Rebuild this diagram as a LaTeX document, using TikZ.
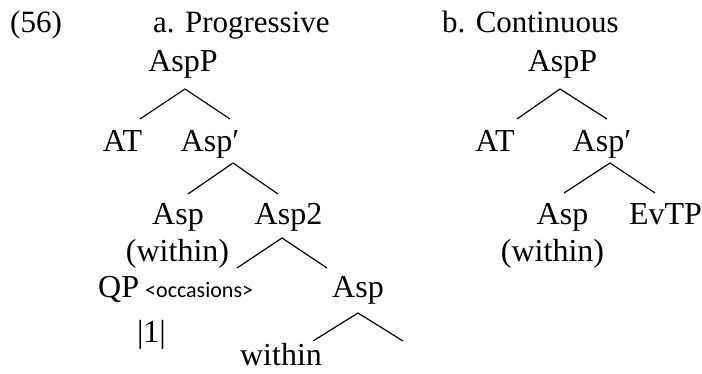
\documentclass[tikz,border=0pt]{standalone}
\usepackage{fontspec}
\setmainfont{Liberation Serif}
\newfontfamily\smallsans{Carlito}
\begin{document}
\begin{tikzpicture}[x=1pt,y=-1pt,
  lab/.style={anchor=base,inner sep=0pt,font=\fontsize{32}{36}\selectfont},
  labw/.style={anchor=base west,inner sep=0pt,font=\fontsize{32}{36}\selectfont},
  head/.style={anchor=base west,inner sep=0pt,font=\fontsize{31}{36}\selectfont},
  tiny/.style={anchor=base west,inner sep=0pt,font=\smallsans\fontsize{22}{26}\selectfont},
  br/.style={line width=1.2pt}]
\useasboundingbox (0,0) rectangle (702,374);
% headings
\node[head] (n56) at (10,33) {(56)};
\node[head] (ta) at (153,33) {a. Progressive};
\node[head] (tb) at (442,33) {b. Continuous};
% tree a
\node[lab] (aP) at (183,72) {AspP};
\node[lab] (aAT) at (122.5,152) {AT};
\node[lab] (aBar) at (210,152) {Asp′};
\node[lab] (aAsp) at (178,225) {Asp};
\node[lab] (aWi) at (177.5,262) {(within)};
\node[lab] (aAsp2) at (288.5,225) {Asp2};
\node[labw] (aQP) at (98,298) {QP};
\node[tiny] (aOcc) at (145,298) {<occasions>};
\node[lab] (aOne) at (151.5,342) {|1|};
\node[lab] (aLow) at (358,298) {Asp};
\node[lab] (aWithin) at (281,366) {within};
% tree a branch points
\coordinate (a1) at (185,89);  \coordinate (a1l) at (140,119); \coordinate (a1r) at (230,119);
\coordinate (a2) at (233,163); \coordinate (a2l) at (188,194); \coordinate (a2r) at (278,194);
\coordinate (a3) at (282,238); \coordinate (a3l) at (237,268); \coordinate (a3r) at (327,268);
\coordinate (a4) at (358,313); \coordinate (a4l) at (313,341); \coordinate (a4r) at (403,341);
\draw[br] (a1l) -- (a1) -- (a1r);
\draw[br] (a2l) -- (a2) -- (a2r);
\draw[br] (a3l) -- (a3) -- (a3r);
\draw[br] (a4l) -- (a4) -- (a4r);
% tree b
\node[lab] (bP) at (562.5,72) {AspP};
\node[lab] (bAT) at (495,152) {AT};
\node[lab] (bBar) at (602,152) {Asp′};
\node[lab] (bAsp) at (562.5,225) {Asp};
\node[lab] (bWi) at (552.5,262) {(within)};
\node[lab] (bEv) at (665.5,225) {EvTP};
\coordinate (b1) at (560,89);  \coordinate (b1l) at (517,119); \coordinate (b1r) at (607,119);
\coordinate (b2) at (610,163); \coordinate (b2l) at (564,193); \coordinate (b2r) at (655,193);
\draw[br] (b1l) -- (b1) -- (b1r);
\draw[br] (b2l) -- (b2) -- (b2r);
\end{tikzpicture}
\end{document}
